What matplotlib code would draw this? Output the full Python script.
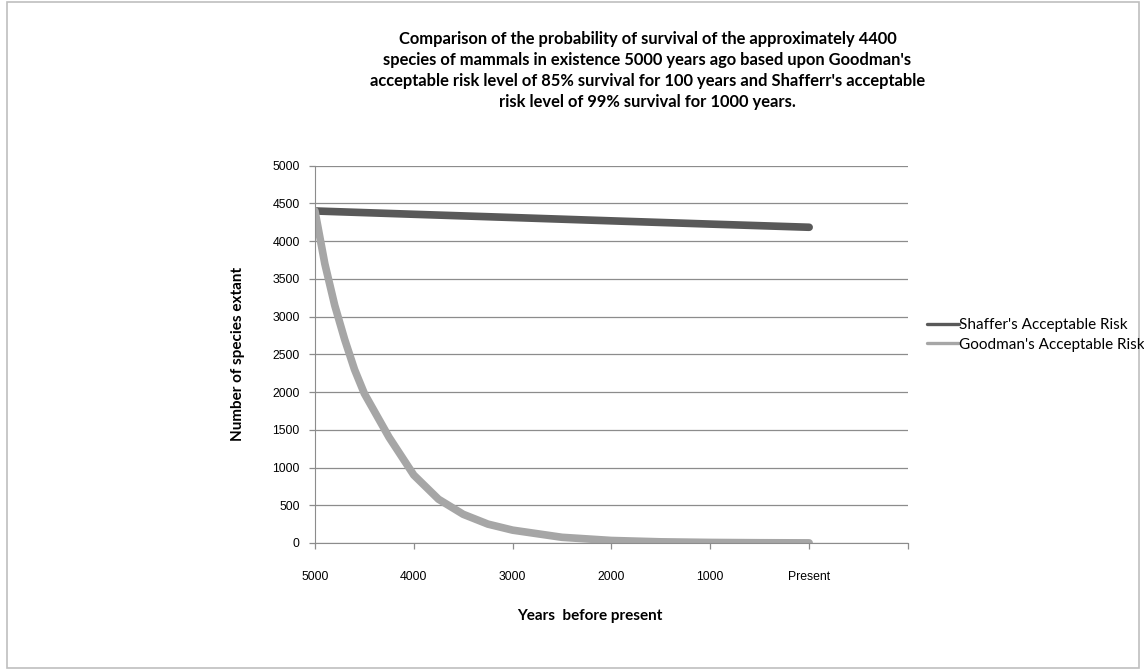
import matplotlib
matplotlib.use("Agg")
import matplotlib.pyplot as plt
from matplotlib.patches import Rectangle

# Years before present and species counts
shaffer_years = [5000, 4000, 3000, 2000, 1000, 0]
shaffer_counts = [4400, 4356, 4313, 4269, 4226, 4184]

goodman_years = [5000, 4900, 4800, 4700, 4600, 4500, 4250, 4000, 3750, 3500,
                 3250, 3000, 2500, 2000, 1500, 1000, 500, 0]
goodman_counts = [4400, 3700, 3150, 2700, 2300, 1980, 1400, 900, 580, 380,
                  250, 170, 75, 33, 15, 7, 3, 1]

x_ticks = [5000, 4000, 3000, 2000, 1000, 0, -1000]
x_labels = ["5000", "4000", "3000", "2000", "1000", "Present", ""]
y_ticks = [0, 500, 1000, 1500, 2000, 2500, 3000, 3500, 4000, 4500, 5000]

title = ("Comparison of the probability of survival of the approximately 4400\n"
         "species of mammals in existence 5000 years ago based upon Goodman's\n"
         "acceptable risk level of 85% survival for 100 years and Shafferr's acceptable\n"
         "risk level of 99% survival for 1000 years.")

fig = plt.figure(figsize=(11.44, 6.70), dpi=100)
# thin frame round the whole chart, like the Excel chart area
fig.patches.append(Rectangle((0.006, 0.003), 0.99, 0.994, transform=fig.transFigure,
                             fill=False, edgecolor="#bfbfbf", linewidth=1.2))

ax = fig.add_axes([0.2753, 0.1896, 0.5184, 0.5631])
ax.plot(shaffer_years, shaffer_counts, color="#595959", linewidth=5.5,
        solid_capstyle="round", label="Shaffer's Acceptable Risk")
ax.plot(goodman_years, goodman_counts, color="#a6a6a6", linewidth=5.5,
        solid_capstyle="round", label="Goodman's Acceptable Risk")

ax.set_xlim(5000, -1000)
ax.set_ylim(0, 5000)
ax.set_xticks(x_ticks)
ax.set_xticklabels(x_labels, fontfamily="Liberation Sans", fontsize=8.8)
ax.set_yticks(y_ticks)
ax.set_yticklabels([str(v) for v in y_ticks], fontfamily="Liberation Sans", fontsize=8.8)
ax.grid(axis="y", color="#8c8c8c", linewidth=0.9)
ax.set_axisbelow(True)
for side in ("top", "right"):
    ax.spines[side].set_visible(False)
for side in ("left", "bottom"):
    ax.spines[side].set_color("#8c8c8c")
ax.tick_params(axis="both", color="#8c8c8c", length=4, width=0.9)
ax.tick_params(axis="x", pad=16)
ax.tick_params(axis="y", pad=7)

ax.set_xlabel("Years  before present", fontfamily="Lato", fontweight="bold",
              fontsize=11)
ax.xaxis.set_label_coords(0.464, -0.175)
ax.set_ylabel("Number of species extant", fontfamily="Lato", fontweight="bold",
              fontsize=11, labelpad=20)

fig.text(0.566, 0.953, title, ha="center", va="top", fontfamily="Lato",
         fontweight="bold", fontsize=11.9, linespacing=1.36)

leg = fig.legend(loc="center left", bbox_to_anchor=(0.810, 0.5), frameon=False,
                 prop={"family": "Lato", "size": 11}, handlelength=2.1,
                 handletextpad=0.0, labelspacing=0.35, borderpad=0,
                 borderaxespad=0)
for line in leg.get_lines():
    line.set_linewidth(2.4)

fig.savefig("out.png", dpi=100)
